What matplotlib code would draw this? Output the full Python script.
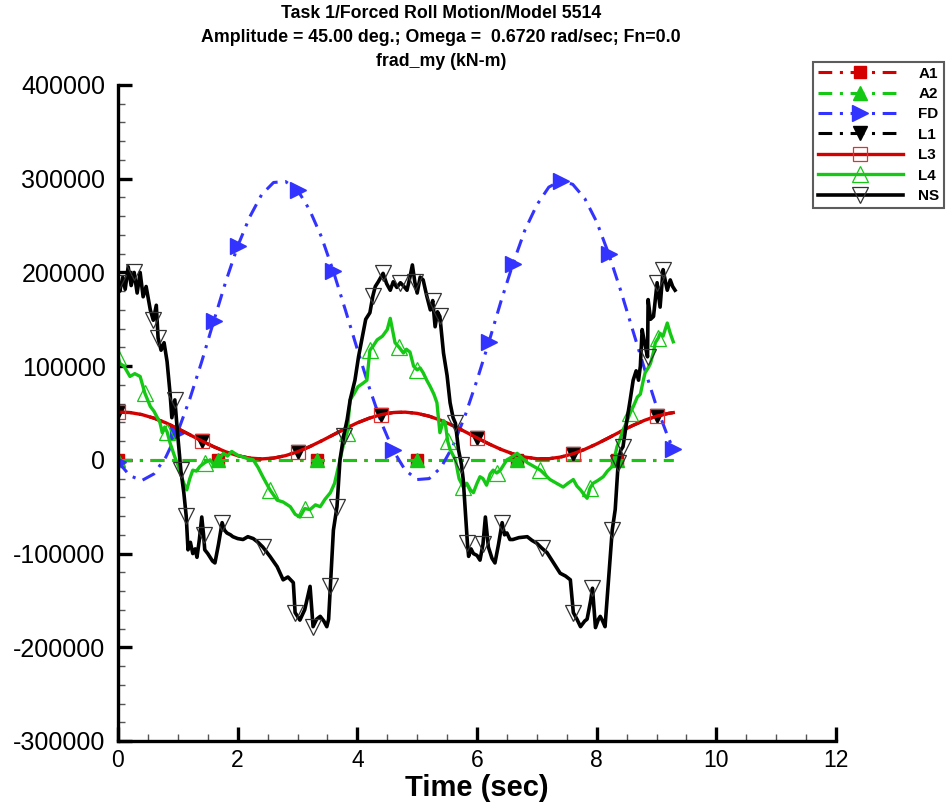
import numpy as np
import matplotlib
matplotlib.use('Agg')
import matplotlib.pyplot as plt
from matplotlib.ticker import MultipleLocator

plt.rcParams['font.family'] = ['Liberation Sans', 'DejaVu Sans']
plt.rcParams['axes.unicode_minus'] = False

# --- data (values in kN-m) ---
t_a = [0.0, 1.67, 3.33, 5.0, 6.67, 8.34, 9.28]
a1 = [0, 0, 0, 0, 0, 0, 0]
a2 = [0, 0, 0, 0, 0, 0, 0]

t_fd = [0.0, 0.2, 0.4, 0.6, 0.8, 1.0, 1.2, 1.4, 1.6, 1.8, 2.0, 2.2, 2.4, 2.6, 2.8,
        3.0, 3.2, 3.4, 3.6, 3.8, 4.0, 4.2, 4.4, 4.6, 4.8, 5.0, 5.2, 5.4, 5.6, 5.8,
        6.0, 6.2, 6.4, 6.6, 6.8, 7.0, 7.2, 7.4, 7.6, 7.8, 8.0, 8.2, 8.4, 8.6, 8.8,
        9.0, 9.2, 9.28]
fd = [-2000, -17000, -22000, -15000, 3000, 30000, 65000, 105000, 148000, 190000,
      228000, 259000, 283000, 296000, 297000, 288000, 267000, 238000, 201000, 160000,
      118000, 77000, 40000, 10000, -11000, -21000, -20000, -8000, 15000, 47000,
      85000, 126000, 169000, 209000, 245000, 272000, 291000, 298000, 294000, 279000,
      254000, 220000, 181000, 139000, 97000, 57000, 23000, 12000]

t_l = [0.0, 0.2, 0.4, 0.6, 0.8, 1.0, 1.2, 1.4, 1.6, 1.8, 2.0, 2.2, 2.4, 2.6, 2.8,
       3.0, 3.2, 3.4, 3.6, 3.8, 4.0, 4.2, 4.4, 4.6, 4.8, 5.0, 5.2, 5.4, 5.6, 5.8,
       6.0, 6.2, 6.4, 6.6, 6.8, 7.0, 7.2, 7.4, 7.6, 7.8, 8.0, 8.2, 8.4, 8.6, 8.8,
       9.0, 9.2, 9.28]
l3 = [50900, 50500, 48300, 44500, 39500, 33400, 26800, 20200, 14000, 8600,
      4500, 1900, 1000, 1900, 4500, 8600, 14000, 20200, 26800, 33400,
      39500, 44500, 48300, 50500, 50900, 49600, 46600, 42100, 36500, 30100,
      23500, 17000, 11200, 6400, 3000, 1200, 1200, 3000, 6400, 11200,
      17000, 23500, 30200, 36600, 42200, 46600, 49600, 50400]
l1 = list(l3)

t_l4 = [0.00, 0.03, 0.10, 0.20, 0.28, 0.37, 0.45, 0.54, 0.60, 0.65, 0.70, 0.74, 0.78,
        0.82, 0.87, 0.95, 1.00, 1.04, 1.10, 1.15, 1.20, 1.25, 1.31, 1.37, 1.45, 1.54,
        1.60, 1.66, 1.72, 1.76, 1.83, 1.90, 2.00, 2.09, 2.18, 2.26, 2.34, 2.42, 2.54,
        2.66, 2.76, 2.88, 2.96, 3.04, 3.12, 3.21, 3.30, 3.38, 3.46, 3.55, 3.62, 3.66,
        3.71, 3.76, 3.83, 3.88, 3.94, 4.01, 4.10, 4.16, 4.21, 4.27, 4.33, 4.42, 4.50,
        4.55, 4.63, 4.70, 4.77, 4.82, 4.88, 4.94, 5.00, 5.05, 5.10, 5.16, 5.22, 5.28,
        5.33, 5.38, 5.44, 5.47, 5.51, 5.55, 5.60, 5.64, 5.70, 5.77, 5.83, 5.89, 5.94,
        6.00, 6.05, 6.10, 6.16, 6.22, 6.27, 6.33, 6.39, 6.45, 6.50, 6.58, 6.67, 6.75,
        6.84, 6.95, 7.06, 7.14, 7.22, 7.33, 7.44, 7.52, 7.61, 7.67, 7.73, 7.80, 7.84,
        7.89, 7.94, 8.02, 8.11, 8.18, 8.26, 8.30, 8.34, 8.39, 8.44, 8.50, 8.56, 8.62,
        8.68, 8.73, 8.78, 8.81, 8.86, 8.90, 8.95, 8.98, 9.03, 9.06, 9.11, 9.15, 9.18,
        9.23, 9.28]
l4 = [110, 103, 100, 89, 92, 89, 71, 57, 52, 46, 40, 29, 35,
      30, 18, 3, -5, -14, -25, -32, -20, -11, -12, -7, -3, 0,
      -5, -3, 3, 7, 4, 9, 5, 3, 1, 0, -8, -18, -32,
      -43, -45, -50, -58, -61, -52, -53, -48, -50, -42, -35, -25, -14,
      0, 14, 29, 64, 70, 78, 82, 85, 117, 122, 128, 132, 139,
      151, 125, 120, 114, 118, 115, 100, 96, 98, 93, 85, 78, 70,
      61, 29, 42, 39, 20, 11, 5, 0, -20, -29, -25, -32, -35,
      -25, -18, -20, -27, -15, -11, -14, -11, -5, 0, 3, 7, 2,
      -3, -7, -11, -16, -21, -25, -29, -25, -21, -28, -32, -38, -41,
      -30, -25, -22, -18, -12, -7, 3, 14, 22, 32, 40, 50, 58,
      67, 70, 85, 93, 98, 103, 115, 125, 130, 135, 132, 140, 146,
      135, 126]

t_ns = [0.00, 0.03, 0.08, 0.12, 0.17, 0.22, 0.27, 0.32, 0.37, 0.42, 0.47, 0.54, 0.59,
        0.64, 0.67, 0.72, 0.77, 0.82, 0.87, 0.90, 0.95, 1.00, 1.05, 1.10, 1.14, 1.17,
        1.21, 1.25, 1.29, 1.32, 1.36, 1.40, 1.43, 1.45, 1.50, 1.54, 1.58, 1.62, 1.68,
        1.74, 1.78, 1.82, 1.88, 1.92, 2.00, 2.09, 2.17, 2.26, 2.34, 2.42, 2.54, 2.66,
        2.76, 2.84, 2.93, 2.96, 3.04, 3.12, 3.21, 3.26, 3.32, 3.38, 3.44, 3.49, 3.52,
        3.55, 3.60, 3.66, 3.71, 3.77, 3.83, 3.88, 3.96, 4.02, 4.08, 4.14, 4.21, 4.26,
        4.30, 4.35, 4.43, 4.49, 4.55, 4.60, 4.66, 4.72, 4.78, 4.83, 4.88, 4.92, 4.96,
        5.00, 5.05, 5.10, 5.16, 5.22, 5.26, 5.30, 5.34, 5.38, 5.44, 5.50, 5.55, 5.60,
        5.64, 5.69, 5.74, 5.77, 5.81, 5.84, 5.86, 5.90, 5.94, 6.00, 6.05, 6.10, 6.14,
        6.19, 6.25, 6.30, 6.36, 6.42, 6.46, 6.50, 6.55, 6.60, 6.70, 6.84, 6.92, 7.00,
        7.08, 7.17, 7.28, 7.39, 7.48, 7.56, 7.61, 7.67, 7.73, 7.80, 7.84, 7.90, 7.93,
        7.98, 8.03, 8.06, 8.10, 8.14, 8.19, 8.26, 8.31, 8.36, 8.40, 8.44, 8.50, 8.56,
        8.61, 8.66, 8.70, 8.73, 8.76, 8.80, 8.85, 8.86, 8.90, 8.95, 9.01, 9.06, 9.11,
        9.15, 9.18, 9.23, 9.27, 9.31]
ns = [189, 180, 195, 182, 206, 186, 200, 178, 200, 174, 185, 160, 149,
      165, 130, 117, 125, 105, 71, 45, 64, 25, -11, -35, -60, -96,
      -88, -100, -95, -104, -85, -61, -80, -96, -100, -104, -108, -110, -90,
      -67, -75, -78, -80, -82, -84, -85, -82, -84, -88, -93, -103, -114,
      -128, -125, -131, -163, -171, -160, -135, -178, -170, -167, -172, -178, -170,
      -135, -75, -50, 0, 25, 43, 64, 85, 110, 130, 150, 157, 175,
      185, 190, 199, 188, 181, 190, 184, 189, 185, 181, 195, 208, 190,
      178, 195, 192, 175, 160, 170, 142, 158, 153, 114, 90, 61, 45,
      39, 11, -5, -21, -60, -89, -103, -95, -100, -102, -107, -90, -61,
      -93, -105, -110, -90, -67, -80, -78, -85, -85, -83, -82, -86, -89,
      -94, -99, -110, -121, -124, -128, -163, -170, -178, -172, -170, -150, -137,
      -179, -170, -167, -172, -178, -135, -75, -53, -3, 10, 14, 40, 64,
      85, 95, 85, 100, 139, 125, 110, 171, 150, 153, 189, 163, 203,
      190, 181, 192, 185, 181]
l4 = [v * 1000 for v in l4]
ns = [v * 1000 for v in ns]

# where the symbols sit (time, s)
mk_a = [0, 1, 2, 3, 4, 5]
mk_fd_t = [0.0, 1.0, 1.6, 2.0, 3.0, 3.6, 4.6, 6.2, 6.6, 7.4, 8.2, 9.28]
mk_l_t = [0.0, 1.4, 3.0, 4.4, 6.0, 7.6, 9.0]
mk_l4_t = [0, 0.48, 0.84, 1.43, 2.5, 3.15, 3.83, 4.21, 4.68, 5.02, 5.5, 5.77,
           6.33, 7.06, 7.89, 8.56, 9.01]
mk_ns_t = [0, 0.25, 0.57, 0.67, 0.95, 1.04, 1.15, 1.42, 1.74, 2.42, 2.96, 3.26,
           3.55, 3.66, 3.74, 4.26, 4.43, 4.72, 4.94, 5.27, 5.38, 5.64, 5.75, 5.85,
           6.1, 6.42, 7.1, 7.64, 7.94, 8.23, 8.34, 8.44, 8.85, 8.98, 9.11]


def idx(tt, marks):
    tt = np.asarray(tt)
    return sorted(set(int(np.argmin(np.abs(tt - m))) for m in marks))


RED = '#d40000'
GREEN = '#14c814'
BLUE = '#3333ff'
dashdot = (4.5, 2.5, 1, 2.5)

fig = plt.figure(figsize=(9.48, 8.05), dpi=100)
ax = fig.add_axes([118 / 948, 64 / 805, 718 / 948, 656 / 805])

ax.plot(t_a, a1, color=RED, lw=2.2, dashes=dashdot, marker='s', ms=8,
        mfc=RED, mec=RED, markevery=mk_a, label='A1')
ax.plot(t_a, a2, color=GREEN, lw=2.2, dashes=dashdot, marker='^', ms=10,
        mfc=GREEN, mec=GREEN, markevery=mk_a, label='A2')
ax.plot(t_fd, fd, color=BLUE, lw=2.2, dashes=dashdot, marker='>', ms=11,
        mfc=BLUE, mec=BLUE, markevery=idx(t_fd, mk_fd_t), label='FD')
ax.plot(t_l, l1, color='black', lw=2.2, dashes=dashdot, marker='v', ms=10,
        mfc='black', mec='black', markevery=idx(t_l, mk_l_t), label='L1')
ax.plot(t_l, l3, color=RED, lw=2.4, marker='s', ms=10, mfc='none', mec='#e03030',
        mew=0.9, markevery=idx(t_l, mk_l_t), label='L3')
ax.plot(t_l4, l4, color=GREEN, lw=2.4, marker='^', ms=12, mfc='none', mec=GREEN,
        mew=0.9, markevery=idx(t_l4, mk_l4_t), label='L4')
ax.plot(t_ns, ns, color='black', lw=2.6, marker='v', ms=12, mfc='none', mec='#333333',
        mew=0.9, markevery=idx(t_ns, mk_ns_t), label='NS')

ax.set_xlim(0, 12)
ax.set_ylim(-300000, 400000)
ax.xaxis.set_major_locator(MultipleLocator(2))
ax.xaxis.set_minor_locator(MultipleLocator(0.5))
ax.yaxis.set_major_locator(MultipleLocator(100000))
ax.yaxis.set_minor_locator(MultipleLocator(20000))
ax.tick_params(which='major', direction='in', length=10, width=2.4, labelsize=18, pad=9)
ax.tick_params(which='minor', direction='in', length=5, width=1, color='#555555')
ax.tick_params(axis='x', which='major', labelsize=16.5, pad=6)
for s in ['top', 'right']:
    ax.spines[s].set_visible(False)
for s in ['left', 'bottom']:
    ax.spines[s].set_linewidth(2.4)

ax.set_xlabel('Time (sec)', fontsize=21, fontweight='bold', labelpad=1)

fig.text(441 / 948, 1 - 5 / 805,
         'Task 1/Forced Roll Motion/Model 5514\n'
         'Amplitude = 45.00 deg.; Omega =  0.6720 rad/sec; Fn=0.0\n'
         'frad_my (kN-m)',
         ha='center', va='top', fontsize=12.8, fontweight='bold', linespacing=1.55)

leg = fig.legend(loc='upper left', bbox_to_anchor=(813 / 948, 1 - 62 / 805),
                 frameon=True, fancybox=False, numpoints=1, handlelength=5.6,
                 prop={'weight': 'bold', 'size': 11}, labelspacing=0.42,
                 borderpad=0.3, handletextpad=1.0, borderaxespad=0)
leg.get_frame().set_edgecolor('#333333')
leg.get_frame().set_linewidth(1.5)

fig.savefig('out.png', dpi=100)
